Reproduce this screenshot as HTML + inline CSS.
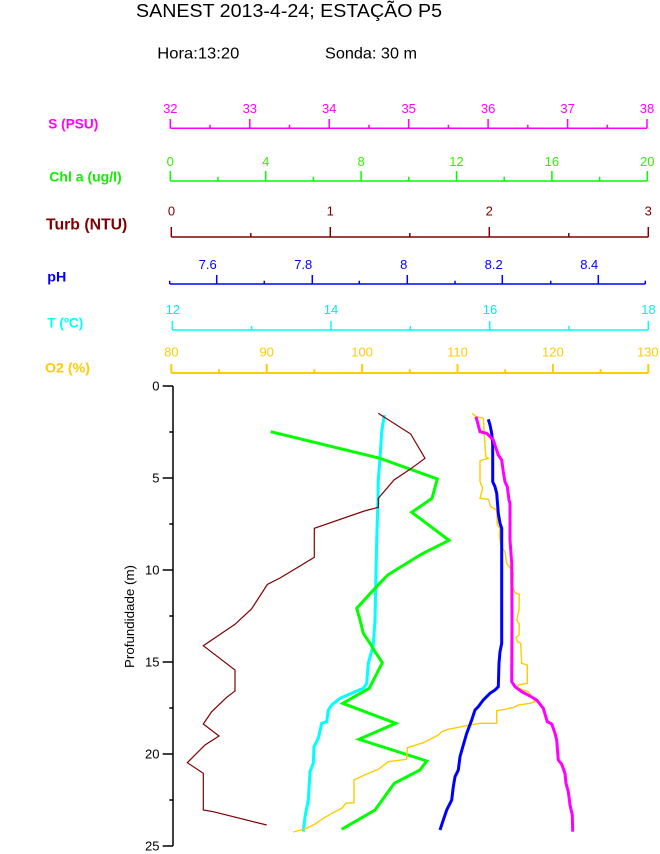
<!DOCTYPE html>
<html><head><meta charset="utf-8"><style>
html,body{margin:0;padding:0;background:#fff;}
svg{display:block;}
text{font-family:"Liberation Sans",Arial,sans-serif;}
</style></head><body>
<svg width="660" height="854" viewBox="0 0 660 854" xmlns="http://www.w3.org/2000/svg">
<rect width="660" height="854" fill="#fff"/>
<!-- titles -->
<text x="136" y="17" font-size="18" textLength="306" lengthAdjust="spacingAndGlyphs" fill="#000">SANEST 2013-4-24; ESTAÇÃO P5</text>
<text x="157.3" y="58.3" font-size="16" textLength="82" lengthAdjust="spacingAndGlyphs" fill="#000">Hora:13:20</text>
<text x="325" y="58.3" font-size="16" textLength="92" lengthAdjust="spacingAndGlyphs" fill="#000">Sonda: 30 m</text>

<!-- left labels -->
<g font-weight="bold" font-size="14">
<text x="48.3" y="128.3" fill="#ff00ff" textLength="50" lengthAdjust="spacingAndGlyphs">S (PSU)</text>
<text x="49.3" y="181.7" fill="#11ee00" textLength="72.4" lengthAdjust="spacingAndGlyphs">Chl a (ug/l)</text>
<text x="46" y="229.3" fill="#800000" font-size="16" textLength="81.3" lengthAdjust="spacingAndGlyphs">Turb (NTU)</text>
<text x="47.3" y="281.7" fill="#0000ff" textLength="19" lengthAdjust="spacingAndGlyphs">pH</text>
<text x="47.3" y="327.3" fill="#00ffff" textLength="36" lengthAdjust="spacingAndGlyphs">T (ºC)</text>
<text x="45" y="372.3" fill="#ffcc00" textLength="45" lengthAdjust="spacingAndGlyphs">O2 (%)</text>
</g>

<!-- S axis -->
<g stroke="#ff00ff" stroke-width="1.5" fill="none">
<line x1="170.3" y1="128.3" x2="647" y2="128.3"/>
<path d="M170.3 119V128.3M249.8 119V128.3M329.2 119V128.3M408.7 119V128.3M488.1 119V128.3M567.6 119V128.3M647 119V128.3"/>
<path d="M210 124.7V128.3M289.5 124.7V128.3M369 124.7V128.3M448.4 124.7V128.3M527.8 124.7V128.3M607.3 124.7V128.3"/>
</g>
<g fill="#ff00ff" font-size="13" text-anchor="middle">
<text x="170.3" y="113">32</text><text x="249.8" y="113">33</text><text x="329.2" y="113">34</text><text x="408.7" y="113">35</text><text x="488.1" y="113">36</text><text x="567.6" y="113">37</text><text x="647" y="113">38</text>
</g>

<!-- Chl axis -->
<g stroke="#00ff00" stroke-width="1.5" fill="none">
<line x1="170.3" y1="181" x2="647.3" y2="181"/>
<path d="M170.3 171V181M265.7 171V181M361.1 171V181M456.5 171V181M551.9 171V181M647.3 171V181"/>
<path d="M218 176.7V181M313.4 176.7V181M408.8 176.7V181M504.2 176.7V181M599.6 176.7V181"/>
</g>
<g fill="#33ee00" font-size="13" text-anchor="middle">
<text x="170.3" y="166">0</text><text x="265.7" y="166">4</text><text x="361.1" y="166">8</text><text x="456.5" y="166">12</text><text x="551.9" y="166">16</text><text x="647.3" y="166">20</text>
</g>

<!-- Turb axis -->
<g stroke="#800000" stroke-width="1.5" fill="none">
<line x1="171.3" y1="237" x2="648.3" y2="237"/>
<path d="M171.3 227V237M330.3 227V237M489.3 227V237M648.3 227V237"/>
<path d="M250.8 233V237M409.8 233V237M568.8 233V237"/>
</g>
<g fill="#800000" font-size="13" text-anchor="middle">
<text x="171.5" y="215.7">0</text><text x="330.3" y="215.7">1</text><text x="489.3" y="215.7">2</text><text x="648.3" y="215.7">3</text>
</g>

<!-- pH axis -->
<g stroke="#0000ff" stroke-width="1.5" fill="none">
<line x1="169.7" y1="284" x2="645.3" y2="284"/>
<path d="M216.7 275V284M312.3 275V284M407.3 275V284M502.3 275V284M598.3 275V284"/>
<path d="M169.7 280.7V284M264.3 280.7V284M359.3 280.7V284M455 280.7V284M550.7 280.7V284M645.3 280.7V284"/>
</g>
<g fill="#0000ff" font-size="13" text-anchor="end">
<text x="216.7" y="269">7.6</text><text x="312.3" y="269">7.8</text><text x="407.3" y="269">8</text><text x="502.7" y="269">8.2</text><text x="598.3" y="269">8.4</text>
</g>

<!-- T axis -->
<g stroke="#00ffff" stroke-width="1.5" fill="none">
<line x1="172.3" y1="330" x2="648.3" y2="330"/>
<path d="M172.3 321V330M331 321V330M489.7 321V330M648.3 321V330"/>
<path d="M251.6 326V330M410.3 326V330M569 326V330"/>
</g>
<g fill="#00eeee" font-size="13" text-anchor="middle">
<text x="172.8" y="314">12</text><text x="331" y="314">14</text><text x="490" y="314">16</text><text x="648.5" y="314">18</text>
</g>

<!-- O2 axis -->
<g stroke="#ffcc00" stroke-width="2" fill="none">
<line x1="171.3" y1="373" x2="648.3" y2="373"/>
<path d="M171.3 364V373M266.7 364V373M362.1 364V373M457.5 364V373M552.9 364V373M648.3 364V373"/>
<path d="M219 369.3V373M314.4 369.3V373M409.8 369.3V373M505.2 369.3V373M600.6 369.3V373"/>
</g>
<g fill="#ffcc00" font-size="13" text-anchor="middle">
<text x="171.3" y="356.7">80</text><text x="266.7" y="356.7">90</text><text x="362.1" y="356.7">100</text><text x="457.5" y="356.7">110</text><text x="552.9" y="356.7">120</text><text x="647.8" y="356.7">130</text>
</g>

<!-- depth axis -->
<g stroke="#000" stroke-width="1.5" fill="none">
<line x1="173" y1="386" x2="173" y2="846"/>
<path d="M162.7 386H173M162.7 478H173M162.7 570H173M162.7 662H173M162.7 754H173M162.7 846H173"/>
<path d="M169.3 432H173M169.3 524H173M169.3 616H173M169.3 708H173M169.3 800H173"/>
</g>
<g fill="#000" font-size="13" text-anchor="end">
<text x="159.5" y="390.5">0</text><text x="159.5" y="482.5">5</text><text x="159.5" y="574.5">10</text><text x="159.5" y="666.5">15</text><text x="159.5" y="758.5">20</text><text x="159.5" y="850.5">25</text>
</g>
<text transform="translate(134,616.5) rotate(-90)" text-anchor="middle" font-size="13" fill="#000" textLength="103" lengthAdjust="spacingAndGlyphs">Profundidade (m)</text>

<!-- series -->
<g fill="none" stroke-linejoin="miter">
<polyline stroke="#00ffff" stroke-width="3" points="384.3,415 381.7,431.7 380,458.3 378.3,480 378,500 376.7,540 375.7,586.7 375,620 373.3,645 368.3,663.3 366.7,683.3 363.3,688.3 355,691.7 340,698.3 331.7,705 328.3,710 326.7,721.7 321.7,723.3 318.3,738.3 314,746.7 313.3,763.3 310,771.7 308.3,800 305,816.7 303.3,831.7"/>
<polyline stroke="#00ff00" stroke-width="3" points="270.7,431.7 380,458.3 437.3,479 432,498.3 411.7,512.3 449,540.3 421.7,554 387.7,575 375,588.3 356.7,608.3 360,620 363.3,633.3 370,643.3 375,651.7 382.3,662.7 376,675 369.3,688.3 342.7,703.3 395.7,723.3 359,739.3 426.7,761 420,770 394.3,783.3 375,810 341.7,829.3"/>
<polyline stroke="#800000" stroke-width="1.2" points="378.3,413.3 410.7,434 425,458.3 410,469.3 394,480 378.3,498.3 378.3,507.3 364.3,511 314.3,528.3 314.3,557.3 300,566 280,578 267.3,584.5 251.5,609 235,624.3 203.3,645.7 235,670 235,691 226.7,697.3 211.7,711.7 203.3,724 219,736 205,745 187.3,762.7 203.3,773.3 203.3,810 213.3,811.7 266.7,825"/>
<polyline stroke="#ffcc00" stroke-width="1.4" points="472.3,413.3 476,416.7 483.3,418.3 484.3,433.3 485.7,456.7 488.3,458.3 480,460.7 480,481.7 482.7,488.3 480,498.3 488.3,499.3 490.7,506.7 496.7,510 497.3,525 500,528.3 499.3,535 501,546.7 505,551.7 506.7,563.3 511.7,570 513.3,573.3 512.7,586.7 515,592.7 519.3,594.3 519,610 516.7,620 519.3,624 519,635 516,637.3 517.3,641.7 520.7,643.3 521.7,663.3 527.3,665 527.3,683.3 518.3,685 516.7,687.7 528.3,691.7 535,701.7 530,703.3 518.3,705 514,707.3 505,709.3 496.7,710.7 496.7,723.3 480,723.3 470,725 458.3,727.3 448.3,729.3 441.7,731.7 438.3,735 423.3,742.7 407.3,747.7 406.7,759.3 388.3,761.7 378.3,769.3 366.7,774 354,780 354,802.7 346,803.3 341.7,808.3 333.3,812.7 325,817.3 315,824 306.7,828.3 293.3,832"/>
<polyline stroke="#0000ff" stroke-width="3" points="488.3,419.3 490,425 491.7,433.3 492.7,443.3 492.7,481.7 495,486.7 496.7,493.3 498.3,513.3 500,523.3 501.7,528.3 501.7,643.3 500,651.7 499,663.3 498.3,686.7 495,690 490,693.3 483.3,700 478.3,706.7 475,710 471.7,720 466.7,733.3 463.3,745 460,756.7 458.3,770 455,776.7 453.3,786.7 451.7,800 446.7,810 443.3,820 440,830"/>
<polyline stroke="#ff00ff" stroke-width="3" points="476,416.7 480,431.7 486.7,433.3 493.3,440 498.3,455 501.7,460 503.3,471.7 505,481.7 507.3,486.7 509,500 510,503.3 510,540 511.7,563.3 512,620 511.7,681.7 515,686.7 521.7,691.7 530,696 536.7,700 543.3,708.3 547.3,721.7 551.7,724 555,733.3 556.7,740 558.3,760 561.7,764.3 565,773.3 566,783.3 568.3,791.7 570,805 572.3,815 572.7,831.7"/>
</g>
</svg>
</body></html>
